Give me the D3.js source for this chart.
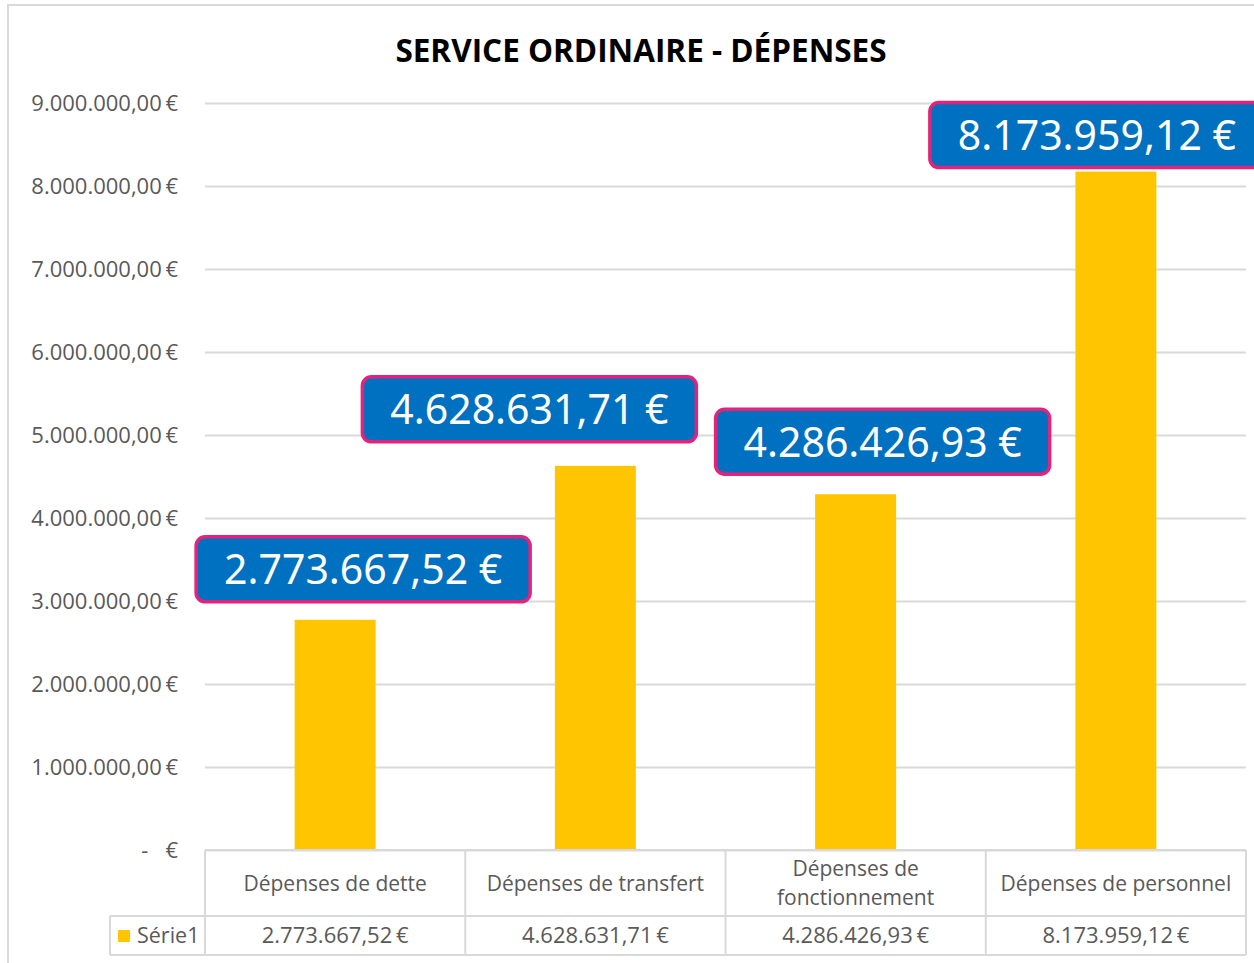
<!DOCTYPE html>
<html>
<head>
<meta charset="utf-8">
<script src="https://cdn.jsdelivr.net/npm/d3@7"></script>
<style>
  body { margin: 0; background: #fff; }
  svg { display: block; }
</style>
</head>
<body>
<div id="chart"></div>
<script>
// Data
const title = 'SERVICE ORDINAIRE - DÉPENSES';
const seriesName = 'Série1';
const categories = ['Dépenses de dette', 'Dépenses de transfert', 'Dépenses de fonctionnement', 'Dépenses de personnel'];
const categoryLines = [['Dépenses de dette'], ['Dépenses de transfert'], ['Dépenses de', 'fonctionnement'], ['Dépenses de personnel']];
const values = [2773667.52, 4628631.71, 4286426.93, 8173959.12];
const yTicks = [0, 1000000, 2000000, 3000000, 4000000, 5000000, 6000000, 7000000, 8000000, 9000000];

// Label callout offsets (center x from bar center, box bottom from bar top)
const labelShift = [[28, -18], [-66, -24], [27, -20], [-19, -4]];

// Dimensions
const width = 1254;
const height = 963;
const plot = {left: 205, right: 1246, top: 103, bottom: 850};

// Colours
const barColor = '#FFC600';
const gridColor = '#D9D9D9';
const textColor = '#595959';
const boxFill = '#0070C0';
const boxStroke = '#E3227A';

// Number format (1.234.567,89 €)
const locale = d3.formatLocale({decimal: ',', thousands: '.', grouping: [3], currency: ['', '€']});
const fmt = locale.format(',.2f');
const euro = (v) => fmt(v) + ' €';
const euroTight = (v) => fmt(v) + '\u2009€';

const svg = d3.select('#chart')
  .append('svg')
    .attr('width', width)
    .attr('height', height)
    .style('font-family', '"Open Sans", "Noto Sans", sans-serif');

// Outer chart border
svg.append('rect')
  .attr('x', 8)
  .attr('y', 5)
  .attr('width', width + 10)
  .attr('height', height + 10)
  .attr('fill', 'none')
  .attr('stroke', gridColor)
  .attr('stroke-width', 2);

// Title
svg.append('text')
  .attr('x', 641)
  .attr('y', 62)
  .attr('text-anchor', 'middle')
  .attr('font-size', 31.5)
  .attr('font-weight', 'bold')
  .attr('fill', '#000')
  .text(title);

// Scales
const scaleX = d3.scaleBand()
  .domain(categories)
  .range([plot.left, plot.right])
  .paddingInner(0)
  .paddingOuter(0);
const barWidth = 81;
const scaleY = d3.scaleLinear()
  .domain([0, 9000000])
  .range([plot.bottom, plot.top]);

// Y axis + gridlines
const yAxis = d3.axisLeft(scaleY)
  .tickValues(yTicks)
  .tickSize(-(plot.right - plot.left))
  .tickPadding(27)
  .tickFormat((d) => d === 0 ? '-   €' : euroTight(d));
const gY = svg.append('g')
  .attr('transform', `translate(${plot.left}, 0)`)
  .call(yAxis);
gY.select('.domain').remove();
gY.selectAll('.tick line')
  .attr('stroke', gridColor)
  .attr('stroke-width', 2);
gY.selectAll('.tick text')
  .attr('fill', textColor)
  .attr('font-size', 22)
  .style('white-space', 'pre')
  .attr('font-family', '"Open Sans", sans-serif');

// Bars
svg.append('g')
  .selectAll('rect')
  .data(values)
  .join('rect')
    .attr('x', (d, i) => scaleX(categories[i]) + scaleX.bandwidth() / 2 - barWidth / 2)
    .attr('y', (d) => scaleY(d))
    .attr('width', barWidth)
    .attr('height', (d) => scaleY(0) - scaleY(d))
    .attr('fill', barColor);

// Data table
const rowTop = plot.bottom;
const rowMid = 916;
const rowBottom = 955;
const tableLeft = 110;
const table = svg.append('g')
  .attr('stroke', gridColor)
  .attr('stroke-width', 2);
table.append('line').attr('x1', plot.left).attr('x2', plot.right).attr('y1', rowTop).attr('y2', rowTop);
table.append('line').attr('x1', tableLeft).attr('x2', plot.right).attr('y1', rowMid).attr('y2', rowMid);
table.append('line').attr('x1', tableLeft).attr('x2', plot.right).attr('y1', rowBottom).attr('y2', rowBottom);
table.append('line').attr('x1', tableLeft).attr('x2', tableLeft).attr('y1', rowMid).attr('y2', rowBottom);
const colEdges = categories.map((c) => scaleX(c)).concat([plot.right]);
table.selectAll('line.col')
  .data(colEdges)
  .join('line')
    .attr('class', 'col')
    .attr('x1', (d) => d)
    .attr('x2', (d) => d)
    .attr('y1', rowTop)
    .attr('y2', rowBottom);

// Header texts
const headers = svg.append('g')
  .attr('fill', textColor)
  .attr('font-size', 21)
  .attr('text-anchor', 'middle');
headers.selectAll('text')
  .data(categoryLines)
  .join('text')
    .attr('x', (d, i) => scaleX(categories[i]) + scaleX.bandwidth() / 2)
    .attr('y', (d) => d.length === 1 ? 891 : 876)
    .each(function (lines) {
      d3.select(this).selectAll('tspan')
        .data(lines)
        .join('tspan')
          .attr('x', d3.select(this).attr('x'))
          .attr('dy', (l, j) => j === 0 ? 0 : 29)
          .text((l) => l);
    });

// Value row
headers.append('g')
  .attr('font-size', 22)
  .selectAll('text')
  .data(values)
  .join('text')
    .attr('x', (d, i) => scaleX(categories[i]) + scaleX.bandwidth() / 2)
    .attr('y', 943)
    .text((d) => euroTight(d));

// Legend key in table
svg.append('rect')
  .attr('x', 118)
  .attr('y', 930)
  .attr('width', 12)
  .attr('height', 12)
  .attr('fill', barColor);
svg.append('text')
  .attr('x', 137)
  .attr('y', 943)
  .attr('fill', textColor)
  .attr('font-size', 21.5)
  .text(seriesName);

// Data label callouts
const boxW = 334;
const boxH = 65;
const labels = svg.append('g')
  .selectAll('g')
  .data(values)
  .join('g')
    .attr('transform', (d, i) => {
      const cx = scaleX(categories[i]) + scaleX.bandwidth() / 2 + labelShift[i][0];
      const bottom = scaleY(d) + labelShift[i][1];
      return `translate(${cx - boxW / 2}, ${bottom - boxH})`;
    });
labels.append('rect')
  .attr('width', boxW)
  .attr('height', boxH)
  .attr('rx', 9)
  .attr('fill', boxFill)
  .attr('stroke', boxStroke)
  .attr('stroke-width', 3.5);
labels.append('text')
  .attr('x', boxW / 2)
  .attr('y', boxH / 2 + 15)
  .attr('text-anchor', 'middle')
  .attr('fill', '#fff')
  .attr('font-size', 41)
  .attr('font-family', '"Noto Sans", sans-serif')
  .text((d) => euro(d));
</script>
</body>
</html>
